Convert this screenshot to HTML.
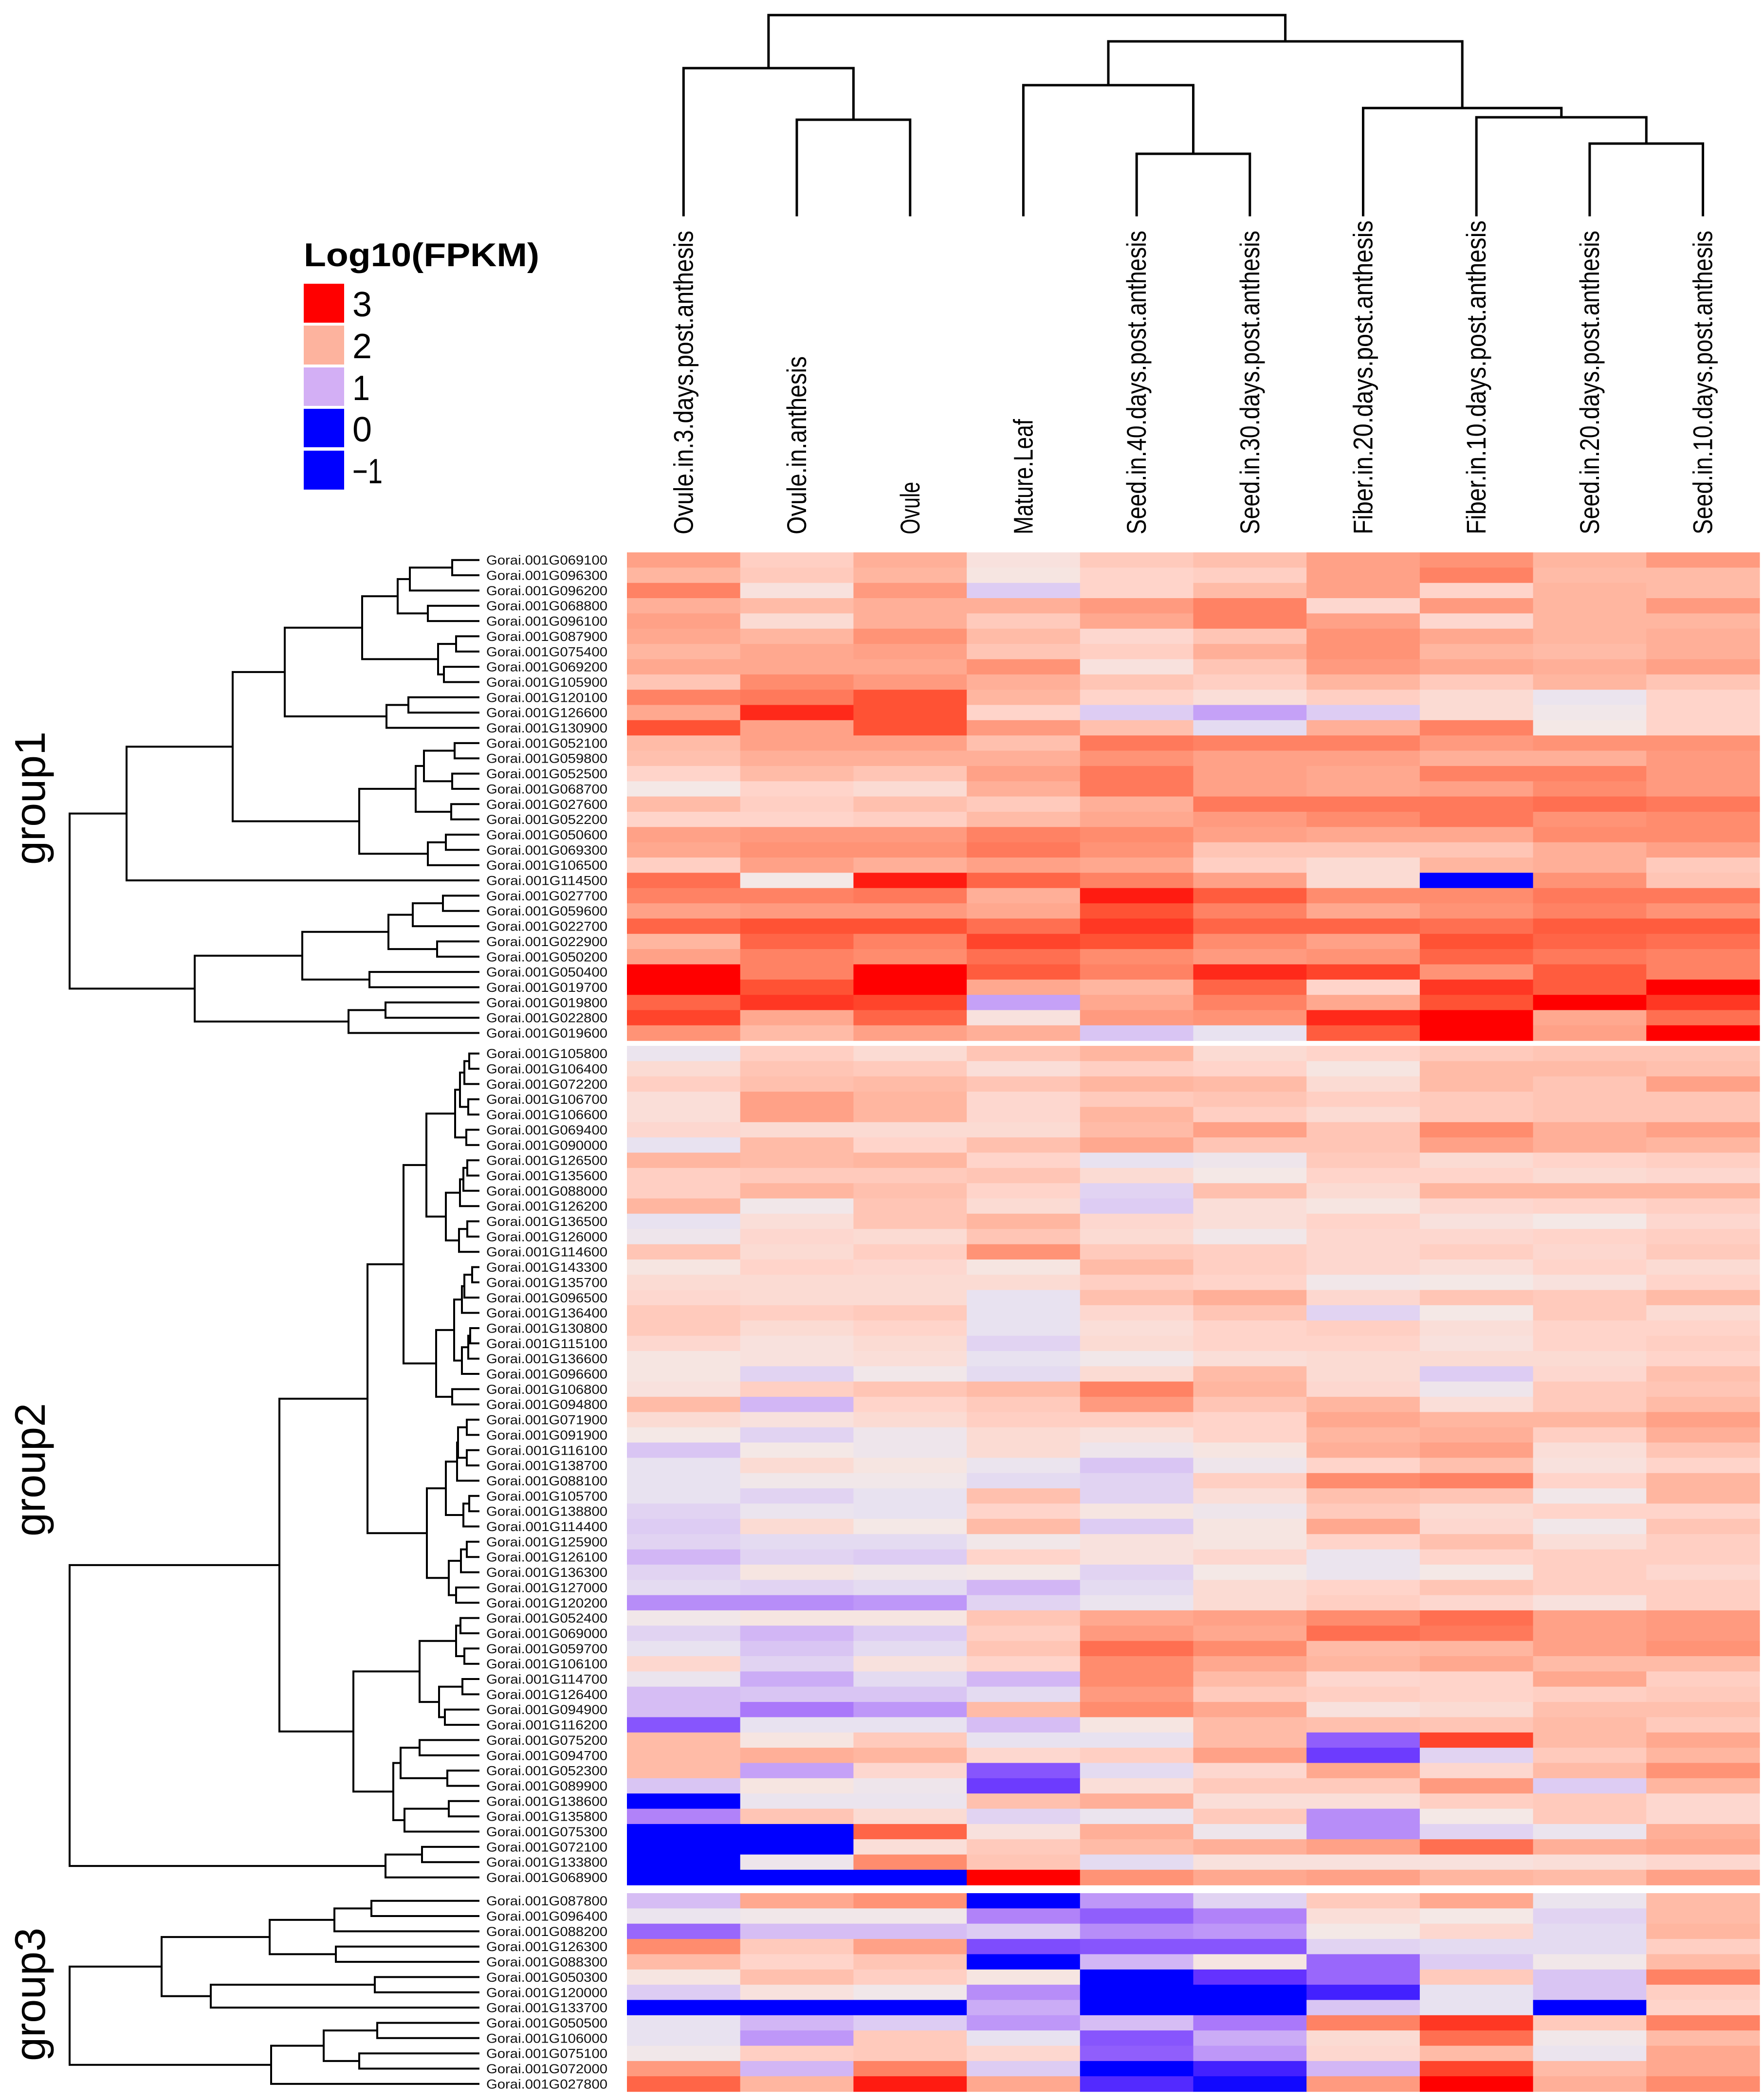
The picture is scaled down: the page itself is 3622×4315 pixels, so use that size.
<!DOCTYPE html>
<html><head><meta charset="utf-8"><style>
html,body{margin:0;padding:0;background:#fff;}
svg{display:block;}
text{font-family:"Liberation Sans",Arial,sans-serif;}
</style></head><body>
<svg id="chart" width="3622" height="4315" viewBox="0 0 3622 4315" xmlns="http://www.w3.org/2000/svg">
<g id="legend">
<text x="624" y="547" font-size="68" font-weight="bold" textLength="484" lengthAdjust="spacingAndGlyphs">Log10(FPKM)</text>
<rect x="624" y="583" width="83" height="80" fill="#ff0000"/>
<rect x="624" y="669" width="83" height="80" fill="#fdb39e"/>
<rect x="624" y="755" width="83" height="79" fill="#d3aff5"/>
<rect x="624" y="840" width="83" height="79" fill="#0000ff"/>
<rect x="624" y="926" width="83" height="80" fill="#0000ff"/>
<text x="724" y="650" font-size="72" textLength="40" lengthAdjust="spacingAndGlyphs">3</text>
<text x="724" y="736" font-size="72" textLength="40" lengthAdjust="spacingAndGlyphs">2</text>
<text x="724" y="822" font-size="72" textLength="36" lengthAdjust="spacingAndGlyphs">1</text>
<text x="724" y="907" font-size="72" textLength="40" lengthAdjust="spacingAndGlyphs">0</text>
<text x="724" y="993" font-size="72" textLength="62" lengthAdjust="spacingAndGlyphs">−1</text>
</g>
<text transform="translate(92,1640) rotate(-90)" font-size="88" text-anchor="middle">group1</text>
<text transform="translate(92,3020) rotate(-90)" font-size="88" text-anchor="middle">group2</text>
<text transform="translate(92,4098) rotate(-90)" font-size="88" text-anchor="middle">group3</text>
</svg>
<script>
const columns=["Ovule.in.3.days.post.anthesis","Ovule.in.anthesis","Ovule","Mature.Leaf","Seed.in.40.days.post.anthesis","Seed.in.30.days.post.anthesis","Fiber.in.20.days.post.anthesis","Fiber.in.10.days.post.anthesis","Seed.in.20.days.post.anthesis","Seed.in.10.days.post.anthesis"];
const genes1=["069100","096300","096200","068800","096100","087900","075400","069200","105900","120100","126600","130900","052100","059800","052500","068700","027600","052200","050600","069300","106500","114500","027700","059600","022700","022900","050200","050400","019700","019800","022800","019600"];
const genes2=["105800","106400","072200","106700","106600","069400","090000","126500","135600","088000","126200","136500","126000","114600","143300","135700","096500","136400","130800","115100","136600","096600","106800","094800","071900","091900","116100","138700","088100","105700","138800","114400","125900","126100","136300","127000","120200","052400","069000","059700","106100","114700","126400","094900","116200","075200","094700","052300","089900","138600","135800","075300","072100","133800","068900"];
const genes3=["087800","096400","088200","126300","088300","050300","120000","133700","050500","106000","075100","072000","027800"];
const values1=[
[2.25,1.85,2.15,1.6,1.9,2.0,2.25,2.35,2.1,2.3],
[2.1,1.9,2.1,1.55,1.8,1.85,2.25,2.45,2.05,2.05],
[2.45,1.6,2.3,1.15,1.8,2.05,2.25,1.8,2.1,2.05],
[2.15,2.05,2.15,2.15,2.3,2.45,1.75,2.3,2.1,2.3],
[2.25,1.7,2.15,1.9,2.2,2.45,2.25,1.75,2.1,2.1],
[2.2,2.1,2.35,2.05,1.75,1.95,2.35,2.2,2.1,2.15],
[2.1,2.2,2.25,1.95,1.85,2.15,2.35,2.1,2.05,2.15],
[2.2,2.2,2.2,2.35,1.6,1.95,2.3,2.2,2.15,2.25],
[1.95,2.4,2.3,2.15,1.95,1.85,2.1,1.9,2.1,1.95],
[2.45,2.5,2.7,2.1,1.8,1.65,1.85,1.7,1.35,1.8],
[2.2,2.85,2.7,1.8,1.15,0.9,1.15,1.7,1.45,1.8],
[2.7,2.25,2.7,2.3,2.0,1.25,2.15,2.45,1.5,1.8],
[2.05,2.25,2.25,2.0,2.5,2.45,2.45,2.3,2.35,2.35],
[2.0,2.15,2.15,2.15,2.35,2.25,2.25,2.15,2.15,2.3],
[1.8,2.05,1.95,2.25,2.5,2.25,2.2,2.45,2.45,2.3],
[1.5,1.8,1.7,2.15,2.5,2.25,2.2,2.25,2.4,2.3],
[2.05,1.85,2.0,1.9,2.15,2.5,2.5,2.5,2.55,2.5],
[1.8,1.8,1.85,2.05,2.2,2.3,2.4,2.5,2.35,2.4],
[2.25,2.3,2.3,2.45,2.4,2.25,2.2,2.2,2.4,2.4],
[2.2,2.35,2.35,2.5,2.35,1.95,1.95,1.95,2.15,2.25],
[1.85,2.25,2.15,2.25,2.2,1.85,1.7,2.1,2.15,1.9],
[2.55,1.5,2.9,2.6,2.45,2.25,1.7,0.0,2.35,1.95],
[2.45,2.45,2.5,2.15,2.9,2.65,2.4,2.4,2.5,2.5],
[2.25,2.3,2.3,2.2,2.7,2.45,2.2,2.35,2.45,2.35],
[2.6,2.7,2.7,2.55,2.8,2.6,2.6,2.55,2.65,2.65],
[2.1,2.6,2.45,2.75,2.7,2.4,2.25,2.7,2.6,2.55],
[2.25,2.45,2.4,2.55,2.4,2.3,2.35,2.6,2.5,2.45],
[3.0,2.45,3.0,2.65,2.45,2.85,2.75,2.35,2.65,2.45],
[3.0,2.7,3.0,2.2,2.1,2.6,1.8,2.8,2.65,3.0],
[2.6,2.8,2.75,0.9,2.2,2.45,2.2,2.7,3.0,2.8],
[2.75,2.2,2.6,1.6,2.3,2.35,2.85,3.0,2.2,2.55],
[2.35,2.05,2.25,2.15,1.1,1.3,2.65,3.0,2.25,3.0]];
const values2=[
[1.35,1.85,1.7,1.95,2.1,1.7,1.8,1.9,1.95,1.95],
[1.7,1.95,1.9,1.65,1.85,1.8,1.55,2.05,2.05,2.0],
[1.85,2.0,2.05,1.95,2.1,2.05,1.7,2.05,1.95,2.25],
[1.65,2.25,2.1,1.75,1.9,1.95,1.85,1.9,1.95,1.95],
[1.65,2.25,2.1,1.75,2.1,1.85,1.7,1.9,1.95,1.95],
[1.75,1.7,1.7,1.7,2.05,2.25,1.95,2.4,2.15,2.25],
[1.3,2.05,1.8,2.0,2.2,1.95,1.95,2.25,2.15,2.1],
[2.1,2.05,2.1,1.8,1.3,1.4,1.9,1.7,1.8,1.85],
[1.85,1.9,1.9,1.95,1.7,1.5,1.8,1.8,1.7,1.75],
[1.85,2.1,2.0,1.8,1.2,2.0,1.7,2.1,2.1,2.1],
[2.1,1.45,1.95,1.7,1.15,1.65,1.55,1.75,1.8,1.85],
[1.3,1.65,1.95,2.1,1.75,1.65,1.8,1.6,1.5,1.75],
[1.4,1.75,1.7,1.95,1.7,1.45,1.75,1.75,1.8,1.85],
[1.95,1.7,1.85,2.35,1.9,1.85,1.75,1.85,1.75,1.9],
[1.55,1.8,1.75,1.55,2.05,1.85,1.75,1.65,1.8,1.7],
[1.7,1.7,1.7,1.7,1.85,1.8,1.45,1.5,1.6,1.8],
[1.75,1.7,1.7,1.3,2.0,2.15,1.75,1.95,1.9,2.05],
[1.9,1.85,1.9,1.3,1.75,1.95,1.2,1.5,1.9,1.7],
[1.9,1.7,1.8,1.3,1.65,1.8,1.85,1.65,1.8,1.8],
[1.75,1.6,1.7,1.2,1.7,1.8,1.8,1.6,1.8,1.85],
[1.55,1.6,1.65,1.3,1.45,1.65,1.7,1.7,1.7,1.8],
[1.55,1.2,1.45,1.25,1.7,2.05,1.7,1.15,1.75,2.0],
[1.6,1.85,1.95,2.05,2.45,2.1,1.75,1.4,1.9,1.95],
[2.05,1.0,1.8,1.9,2.3,1.95,2.1,1.65,1.9,2.05],
[1.7,1.6,1.7,1.85,1.85,1.8,2.2,2.1,2.1,2.25],
[1.5,1.2,1.4,1.7,1.6,1.8,2.1,2.15,1.85,2.15],
[1.1,1.5,1.4,1.7,1.4,1.55,2.15,2.25,1.65,1.95],
[1.3,1.7,1.55,1.35,1.1,1.4,1.8,2.0,1.6,1.8],
[1.3,1.45,1.45,1.25,1.2,1.85,2.4,2.45,1.8,2.1],
[1.3,1.2,1.3,2.0,1.2,1.65,2.0,1.95,1.45,2.1],
[1.2,1.35,1.3,1.8,1.55,1.4,1.9,1.7,1.8,1.8],
[1.15,1.7,1.5,2.05,1.15,1.55,2.2,1.75,1.45,1.95],
[1.2,1.25,1.25,1.45,1.6,1.55,1.8,2.0,1.65,1.85],
[1.0,1.2,1.15,1.8,1.6,1.75,1.35,1.8,1.85,1.85],
[1.2,1.55,1.45,1.5,1.2,1.5,1.35,1.5,1.85,1.75],
[1.25,1.2,1.25,1.0,1.25,1.7,1.8,1.95,1.85,1.85],
[0.8,0.8,0.85,1.2,1.35,1.7,1.85,1.75,1.6,1.85],
[1.45,1.55,1.55,1.95,2.2,2.25,2.4,2.55,2.25,2.3],
[1.2,1.0,1.15,1.85,2.3,2.2,2.55,2.5,2.25,2.3],
[1.3,1.1,1.25,1.95,2.55,2.4,2.05,2.1,2.25,2.35],
[1.75,1.2,1.6,1.8,2.4,2.2,2.1,2.2,2.05,2.05],
[1.35,0.95,1.25,1.0,2.4,2.05,1.75,1.8,2.2,1.85],
[1.05,1.1,1.1,1.25,2.3,1.9,1.85,1.8,1.85,1.9],
[1.05,0.7,0.85,2.05,2.4,2.2,1.6,1.7,2.0,2.0],
[0.5,1.3,1.3,1.05,1.55,2.05,2.0,1.95,2.05,1.9],
[2.05,1.55,1.9,1.3,1.3,2.05,0.55,2.75,2.05,2.2],
[2.05,2.15,2.1,1.75,1.85,2.25,0.35,1.2,1.9,2.1],
[2.05,0.9,1.75,0.5,1.25,1.75,2.2,1.75,2.05,2.35],
[1.1,1.55,1.4,0.35,1.65,1.9,1.9,2.3,1.15,2.1],
[0.0,1.35,1.35,2.0,2.15,1.65,1.65,1.85,1.9,1.75],
[0.75,1.95,1.7,1.2,1.35,1.9,0.8,1.5,1.9,1.75],
[0.0,0.0,2.6,1.6,2.15,1.4,0.8,1.2,1.35,2.15],
[0.0,0.0,1.65,1.9,2.05,2.15,2.25,2.55,2.15,2.2],
[0.0,1.4,2.4,1.95,1.25,1.6,1.6,1.6,1.65,1.75],
[0.0,0.0,0.0,3.0,2.35,2.2,2.25,2.1,2.05,2.25]];
const values3=[
[1.05,2.2,2.35,0.0,0.85,1.2,1.9,2.2,1.35,2.05],
[1.35,1.45,1.45,0.75,0.55,0.75,1.65,1.5,1.2,2.05],
[0.6,1.05,1.05,1.15,0.8,0.85,1.5,1.75,1.25,2.1],
[2.4,1.9,2.25,0.45,0.5,0.5,1.2,1.25,1.25,1.85],
[2.05,1.8,1.95,0.0,1.0,1.55,0.6,1.15,1.45,2.05],
[1.55,2.0,1.85,1.55,0.0,0.3,0.6,1.9,1.1,2.45],
[1.15,1.6,1.45,0.8,0.0,0.0,0.2,1.3,1.1,1.85],
[0.0,0.0,0.0,0.95,0.0,0.0,1.1,1.3,0.0,1.8],
[1.3,1.0,1.15,0.85,1.05,0.7,2.45,2.8,1.9,2.45],
[1.3,0.85,1.9,1.3,0.5,0.95,1.7,2.55,1.45,2.05],
[1.45,1.85,1.9,1.75,0.55,0.85,1.75,2.05,1.35,2.2],
[2.3,1.0,2.45,1.15,0.0,0.2,1.0,2.75,2.05,2.2],
[2.6,2.1,2.9,2.2,0.25,0.05,2.3,3.0,2.15,2.4]];

// dendrogram structure: [mergeX, left, right]; leaves are row indices
const t1A=[817,[842,[929,0,1],2],[879,3,4]];
const t1B=[900,[937,5,6],[912,7,8]];
const t1C=[744,t1A,t1B];
const t1D=[794,[839,9,10],11];
const t1E=[585,t1C,t1D];
const t1F=[854,[871,[934,12,13],[929,14,15]],[927,16,17]];
const t1G=[738,t1F,[879,[916,18,19],20]];
const t1H=[478,t1E,t1G];
const t1I=[260,t1H,21];
const t1J=[621,[798,[848,[910,22,23],24],[898,25,26]],[759,27,28]];
const t1K=[400,t1J,[716,[792,29,30],31]];
const tree1=[143,t1I,t1K];

const t2a=[954,[964,0,1],2];
const t2b=[945,t2a,[962,3,4]];
const t2c=[935,t2b,[958,5,6]];
const t2d1=[945,[952,[960,7,8],9],10];
const t2d=[916,t2d1,[943,[960,11,12],13]];
const t2e=[876,t2c,t2d];
const t2f=[933,[949,[954,[970,14,15],16],17],[949,[962,[966,18,19],20],21]];
const t2g=[896,t2f,[929,22,23]];
const t2h=[829,t2e,t2g];
const t2i1=[939,[941,[959,24,25],[959,26,27]],28];
const t2i=[916,t2i1,[952,[964,29,30],31]];
const t2j2=[922,[947,[959,32,33],34],[937,35,36]];
const t2j=[877,t2i,t2j2];
const t2k=[755,t2h,t2j];
const t2l=[862,[937,[946,37,38],[954,39,40]],[902,[950,41,42],[914,43,44]]];
const t2m=[808,[823,[862,45,46],[919,47,48]],[831,[922,49,50],51]];
const t2n=[726,t2l,t2m];
const t2o=[574,t2k,t2n];
const t2p=[792,[867,52,53],54];
const tree2=[143,t2o,t2p];

const tree3=[143,[332,[554,[687,[763,0,1],2],[690,3,4]],[433,[770,5,6],7]],[557,[665,[775,8,9],[738,10,11]],12]];
const colTree=[31,[140,0,[246,1,2]],[85,[175,3,[316,4,5]],[222,6,[241,7,[295,8,9]]]]];

const NS="http://www.w3.org/2000/svg";
const svg=document.getElementById('chart');
const X0=1288,X1=3615,CW=(X1-X0)/columns.length,RH=31.35,LEAFX=983;
const groups=[{g:genes1,v:values1,y0:1135,t:tree1,n:1},{g:genes2,v:values2,y0:2149,t:tree2,n:2},{g:genes3,v:values3,y0:3890,t:tree3,n:3}];
const stops=[[0,[0,0,255]],[0.3,[100,50,255]],[0.7,[170,120,250]],[1.0,[210,182,245]],[1.3,[232,226,240]],[1.5,[244,232,230]],[1.8,[255,212,202]],[2.1,[255,182,160]],[2.4,[255,140,110]],[2.7,[255,82,52]],[3.0,[255,0,0]]];
function color(v){v=Math.max(0,Math.min(3,v));for(let i=1;i<stops.length;i++){if(v<=stops[i][0]){const a=stops[i-1],b=stops[i],t=(v-a[0])/(b[0]-a[0]);const c=a[1].map((x,k)=>Math.round(x+(b[1][k]-x)*t));return 'rgb('+c.join(',')+')';}}return 'rgb(255,0,0)';}
function xCol(j){return X0+j*CW;}
function el(tag,attrs,parent){const e=document.createElementNS(NS,tag);for(const k in attrs)e.setAttribute(k,attrs[k]);(parent||svg).appendChild(e);return e;}

const hm=el('g',{});


groups.forEach(G=>{
  G.v.forEach((row,i)=>{
    row.forEach((val,j)=>{
      const r=el('rect',{x:xCol(j).toFixed(1),y:(G.y0+i*RH).toFixed(1),width:(CW+0.6).toFixed(1),height:(RH+0.6).toFixed(1),fill:color(val)},hm);
      
      
    });
  });
  G.g.forEach((name,i)=>{
    const t=el('text',{x:999,y:(G.y0+(i+0.5)*RH+9.5).toFixed(1),'font-size':27,textLength:249,lengthAdjust:'spacingAndGlyphs',fill:'#111'});
    t.textContent='Gorai.001G'+name;
    
    
  });
  const dg=el('g',{stroke:'#000','stroke-width':4,fill:'none','stroke-linecap':'square'});
  
  
  function draw(node){
    if(typeof node==='number')return {x:LEAFX,y:G.y0+(node+0.5)*RH};
    const a=draw(node[1]),b=draw(node[2]),h=node[0];
    const p=el('path',{d:'M'+a.x+' '+a.y.toFixed(1)+'H'+h+'V'+b.y.toFixed(1)+'H'+b.x},dg);
    
    
    return {x:h,y:(a.y+b.y)/2};
  }
  draw(G.t);
});
const cg=el('g',{stroke:'#000','stroke-width':5,fill:'none','stroke-linecap':'square'});


function drawC(node){
  if(typeof node==='number')return {x:xCol(node)+CW/2,y:442};
  const a=drawC(node[1]),b=drawC(node[2]),h=node[0];
  const p=el('path',{d:'M'+a.x.toFixed(1)+' '+a.y+'V'+h+'H'+b.x.toFixed(1)+'V'+b.y},cg);
  
  
  return {x:(a.x+b.x)/2,y:h};
}
drawC(colTree);
columns.forEach((c,j)=>{
  const cx=xCol(j)+CW/2;
  const t=el('text',{transform:'translate('+(cx+19).toFixed(1)+',1098) rotate(-90)','font-size':56,fill:'#000',textLength:(c.length*21.5).toFixed(0),lengthAdjust:'spacingAndGlyphs'});
  t.textContent=c;
  
  
});
</script>
</body></html>
